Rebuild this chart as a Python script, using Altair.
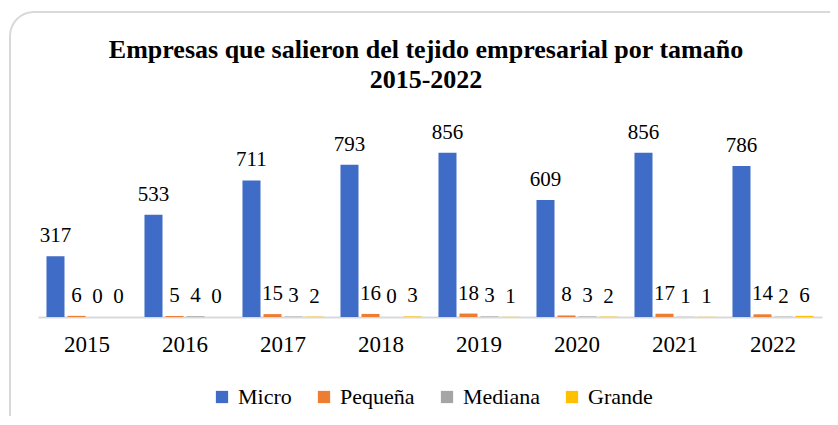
import altair as alt
import pandas as pd

years = ["2015", "2016", "2017", "2018", "2019", "2020", "2021", "2022"]
series = ["Micro", "Pequeña", "Mediana", "Grande"]
micro = [317, 533, 711, 793, 856, 609, 856, 786]
pequena = [6, 5, 15, 16, 18, 8, 17, 14]
mediana = [0, 4, 3, 0, 3, 3, 1, 2]
grande = [0, 0, 2, 3, 1, 2, 1, 6]
colors = ["#3F6CC6", "#ED7D31", "#A5A5A5", "#FFC000"]
title_lines = ["Empresas que salieron del tejido empresarial por tamaño", "2015-2022"]

rows = []
for name, vals in zip(series, [micro, pequena, mediana, grande]):
    for y, v in zip(years, vals):
        rows.append({"year": y, "serie": name, "value": v})
df = pd.DataFrame(rows)

FONT = "Liberation Serif, Times New Roman, serif"

base = alt.Chart(df).encode(
    x=alt.X("year:N", sort=years, title=None,
            scale=alt.Scale(paddingInner=0.173, paddingOuter=0.0865),
            axis=alt.Axis(labelFont=FONT, labelFontSize=23, labelColor="#000000",
                          labelAngle=0, labelPadding=16, ticks=False,
                          domainColor="#D9D9D9", domainWidth=2)),
    xOffset=alt.XOffset("serie:N", sort=series,
                        scale=alt.Scale(paddingInner=0.143, paddingOuter=0)),
    y=alt.Y("value:Q", scale=alt.Scale(domain=[0, 1000]), axis=None),
)

bars = base.mark_bar().encode(
    color=alt.Color("serie:N", sort=series,
                    scale=alt.Scale(domain=series, range=colors),
                    legend=alt.Legend(title=None, orient="none", direction="horizontal",
                                      legendX=173, legendY=261,
                                      symbolType="square", symbolSize=150,
                                      symbolStrokeWidth=0,
                                      labelFont=FONT, labelFontSize=22,
                                      labelColor="#000000", labelOffset=5,
                                      columnPadding=21, padding=0))
)

labels = base.mark_text(font=FONT, fontSize=21, color="#000000",
                        baseline="alphabetic", dy=-14).encode(
    text=alt.Text("value:Q")
)

border = alt.Chart(pd.DataFrame({"k": [0]})).mark_rect(
    fill="transparent", stroke="#D9D9D9", strokeWidth=2, cornerRadius=24
).encode(
    x=alt.value(-28), x2=alt.value(840),
    y=alt.value(-113), y2=alt.value(340)
)

title1 = alt.Chart(pd.DataFrame({"t": [title_lines[0]]})).mark_text(
    font=FONT, fontSize=26, fontWeight="bold", color="#000000",
    baseline="alphabetic", align="center"
).encode(x=alt.value(388), y=alt.value(-67), text="t:N")

title2 = alt.Chart(pd.DataFrame({"t": [title_lines[1]]})).mark_text(
    font=FONT, fontSize=26, fontWeight="bold", color="#000000",
    baseline="alphabetic", align="center"
).encode(x=alt.value(388), y=alt.value(-37), text="t:N")

chart = alt.layer(border, title1, title2, bars, labels).properties(
    width=784, height=192,
    autosize=alt.AutoSizeParams(type="none"),
    padding={"left": 30, "top": 117, "right": 8, "bottom": 99},
    background="#FFFFFF",
).configure_view(stroke=None)

chart.save("out.html", embed_options={"renderer": "svg", "actions": False})
